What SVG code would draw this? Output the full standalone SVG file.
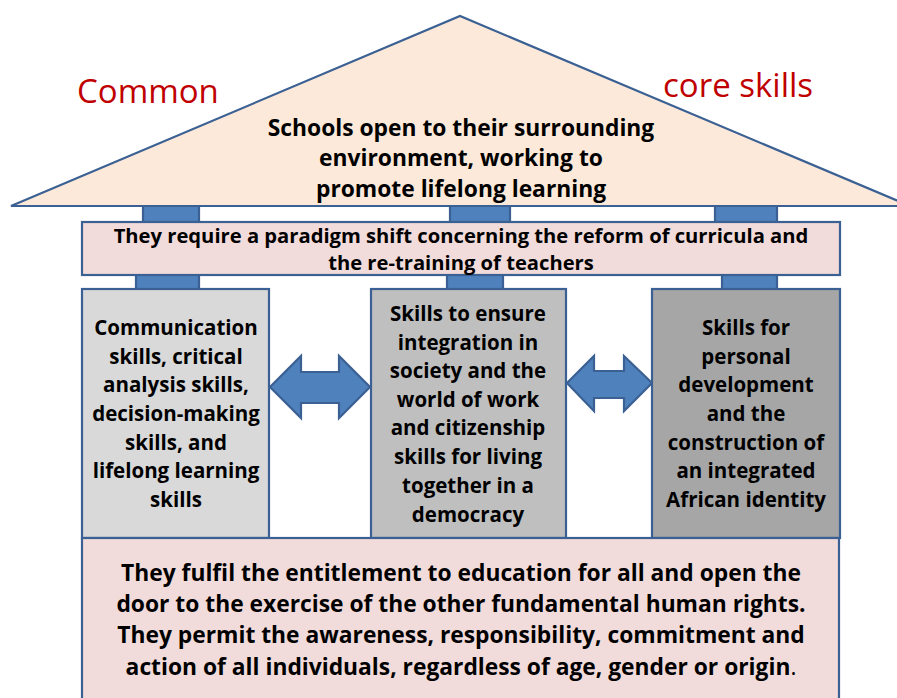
<svg xmlns="http://www.w3.org/2000/svg" width="897" height="698" viewBox="0 0 897 698">
<style>
.blk{stroke:#3B6093;stroke-width:2.2;}
.pin{fill:#4F81BD;stroke:#3B6093;stroke-width:2.2;}
.t{font-family:"Open Sans","Liberation Sans",sans-serif;font-weight:bold;fill:#000;text-anchor:middle;font-size:20.5px;}
.big{font-size:22.8px;}
.band{font-size:20.2px;}
.red{font-family:"Open Sans","Liberation Sans",sans-serif;fill:#C00000;font-size:33px;}
</style>
<rect width="897" height="698" fill="#FFFFFF"/>
<g id="connectors">
<rect class="pin" x="143" y="204" width="56" height="19"/>
<rect class="pin" x="450" y="204" width="60" height="19"/>
<rect class="pin" x="715" y="204" width="62" height="19"/>
<rect class="pin" x="136" y="274" width="63" height="16"/>
<rect class="pin" x="447" y="274" width="56" height="16"/>
<rect class="pin" x="722" y="274" width="55" height="16"/>
<path class="pin" d="M270,387 L301,356 L301,372 L339,372 L339,356 L370,387 L339,418 L339,403 L301,403 L301,418 Z"/>
<path class="pin" d="M567,383 L594,356 L594,371 L624,371 L624,356 L652,383 L624,411 L624,398 L594,398 L594,411 Z"/>
</g>
<g id="roof">
<path class="blk" d="M11,206 L460,16 L910,206 Z" fill="#FDE9D9"/>
<text class="t big" x="461" y="136">Schools open to their surrounding</text>
<text class="t big" x="461" y="166">environment, working to</text>
<text class="t big" x="461" y="197">promote lifelong learning</text>
</g>
<g id="label-common">
<text class="red" x="77" y="103">Common</text>
</g>
<g id="label-core">
<text class="red" x="663" y="97">core skills</text>
</g>
<g id="band">
<rect class="blk" x="82" y="222" width="758" height="53" fill="#F2DCDB"/>
<text class="t band" x="461" y="243">They require a paradigm shift concerning the reform of curricula and</text>
<text class="t band" x="461" y="270">the re-training of teachers</text>
</g>
<g id="col-left">
<rect class="blk" x="82" y="289" width="187" height="249" fill="#D9D9D9"/>
<text class="t" x="176" y="335">Communication</text>
<text class="t" x="176" y="364">skills, critical</text>
<text class="t" x="176" y="392">analysis skills,</text>
<text class="t" x="176" y="421">decision-making</text>
<text class="t" x="176" y="450">skills, and</text>
<text class="t" x="176" y="478">lifelong learning</text>
<text class="t" x="176" y="507">skills</text>
</g>
<g id="col-middle">
<rect class="blk" x="371" y="289" width="195" height="249" fill="#BFBFBF"/>
<text class="t" x="468" y="321">Skills to ensure</text>
<text class="t" x="468" y="350">integration in</text>
<text class="t" x="468" y="378">society and the</text>
<text class="t" x="468" y="407">world of work</text>
<text class="t" x="468" y="435">and citizenship</text>
<text class="t" x="468" y="464">skills for living</text>
<text class="t" x="468" y="493">together in a</text>
<text class="t" x="468" y="522">democracy</text>
</g>
<g id="col-right">
<rect class="blk" x="652" y="289" width="188" height="249" fill="#A6A6A6"/>
<text class="t" x="746" y="335">Skills for</text>
<text class="t" x="746" y="364">personal</text>
<text class="t" x="746" y="392">development</text>
<text class="t" x="746" y="421">and the</text>
<text class="t" x="746" y="450">construction of</text>
<text class="t" x="746" y="478">an integrated</text>
<text class="t" x="746" y="507">African identity</text>
</g>
<g id="base">
<rect class="blk" x="82" y="538" width="757" height="175" fill="#F2DCDB"/>
<text class="t big" x="461" y="581">They fulfil the entitlement to education for all and open the</text>
<text class="t big" x="461" y="612">door to the exercise of the other fundamental human rights.</text>
<text class="t big" x="461" y="643">They permit the awareness, responsibility, commitment and</text>
<text class="t big" x="461" y="675">action of all individuals, regardless of age, gender or origin<tspan font-weight="normal">.</tspan></text>
</g>
</svg>
